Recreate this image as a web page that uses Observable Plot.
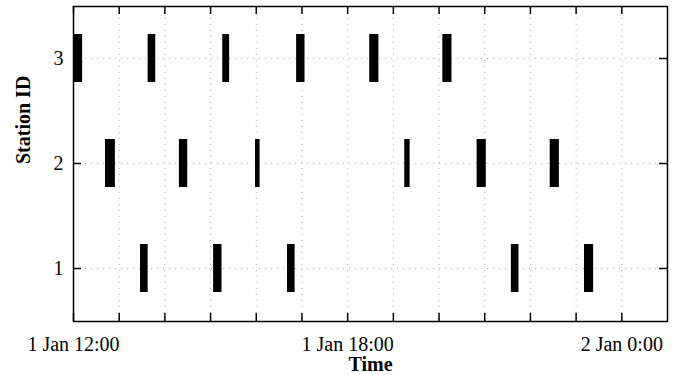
<!DOCTYPE html>
<html><head><meta charset="utf-8">
<script src="https://cdn.jsdelivr.net/npm/d3@7"></script>
<script src="https://cdn.jsdelivr.net/npm/@observablehq/plot@0.6"></script>
<style>body{margin:0;background:#fff} svg{display:block}</style>
</head><body><div id="chart"></div>
<script>
// Data
const stationIds = [3, 3, 3, 3, 3, 3, 2, 2, 2, 2, 2, 2, 1, 1, 1, 1, 1];
const startTimes = [
  "2023-01-01T12:00Z", "2023-01-01T13:38Z", "2023-01-01T15:16Z", "2023-01-01T16:53Z", "2023-01-01T18:29Z", "2023-01-01T20:05Z",
  "2023-01-01T12:42Z", "2023-01-01T14:19Z", "2023-01-01T15:59Z", "2023-01-01T19:15Z", "2023-01-01T20:50Z", "2023-01-01T22:26Z",
  "2023-01-01T13:28Z", "2023-01-01T15:04Z", "2023-01-01T16:41Z", "2023-01-01T21:35Z", "2023-01-01T23:11Z"
];
const endTimes = [
  "2023-01-01T12:12Z", "2023-01-01T13:48Z", "2023-01-01T15:25Z", "2023-01-01T17:04Z", "2023-01-01T18:41Z", "2023-01-01T20:17Z",
  "2023-01-01T12:55Z", "2023-01-01T14:30Z", "2023-01-01T16:05Z", "2023-01-01T19:22Z", "2023-01-01T21:02Z", "2023-01-01T22:38Z",
  "2023-01-01T13:38Z", "2023-01-01T15:15Z", "2023-01-01T16:51Z", "2023-01-01T21:45Z", "2023-01-01T23:23Z"
];
const stationDomain = [3, 2, 1];
const xDomain = ["2023-01-01T12:00Z", "2023-01-02T01:00Z"];
const labelTimes = ["2023-01-01T12:00Z", "2023-01-01T18:00Z", "2023-01-02T00:00Z"];
const xLabel = "Time";
const yLabel = "Station ID";

const data = stationIds.map((id, i) => ({id, start: new Date(startTimes[i]), end: new Date(endTimes[i])}));
const x0 = new Date(xDomain[0]), x1 = new Date(xDomain[1]);
const hourTicks = d3.utcHour.range(x0, x1);
const fmt = d => `${d.getUTCDate()} Jan ${d.getUTCHours()}:${String(d.getUTCMinutes()).padStart(2, "0")}`;

const W = 678, H = 375, mL = 73, mR = 11, mT = 6, mB = 54;
const innerW = W - mL - mR, innerH = H - mT - mB;
const font = "'Liberation Serif', 'Times New Roman', serif";
const gridStyle = {stroke: "#aaa", strokeOpacity: 1, strokeWidth: 1, strokeDasharray: "1,5"};
const tickStyle = {stroke: "black", strokeOpacity: 1, strokeWidth: 1.5};
const tickLen = 8;
const barPad = 0.54;

const chart = Plot.plot({
  width: W, height: H,
  marginLeft: mL, marginRight: mR, marginTop: mT, marginBottom: mB,
  style: {fontFamily: font, fontSize: "20px", color: "black", background: "white"},
  x: {type: "utc", domain: [x0, x1], axis: null},
  y: {type: "band", domain: stationDomain, paddingInner: barPad, paddingOuter: barPad / 2, axis: null},
  marks: [
    Plot.gridX(hourTicks, gridStyle),
    Plot.gridY(stationDomain, gridStyle),
    Plot.barX(data, {x1: "start", x2: "end", y: "id", fill: "black"}),
    // inward tick marks
    Plot.gridX(hourTicks, {...tickStyle, insetTop: innerH - tickLen}),
    Plot.gridX(hourTicks, {...tickStyle, insetBottom: innerH - tickLen}),
    Plot.gridY(stationDomain, {...tickStyle, insetRight: innerW - tickLen}),
    Plot.gridY(stationDomain, {...tickStyle, insetLeft: innerW - tickLen}),
    Plot.axisY(stationDomain, {anchor: "left", tickSize: 0, tickPadding: 10, label: null, fontSize: 20}),
    Plot.text(labelTimes.map(d => new Date(d)), {x: d => d, text: fmt, frameAnchor: "bottom", lineAnchor: "bottom", dy: 29, fontSize: 20}),
    Plot.text([xLabel], {text: d => d, frameAnchor: "bottom", lineAnchor: "bottom", dy: 49, fontSize: 20, fontWeight: "bold"}),
    Plot.text([yLabel], {text: d => d, frameAnchor: "left", rotate: -90, dx: -50, fontSize: 20, fontWeight: "bold"}),
    Plot.frame({stroke: "black", strokeWidth: 1.5})
  ]
});
document.getElementById("chart").appendChild(chart);
</script>
</body></html>
